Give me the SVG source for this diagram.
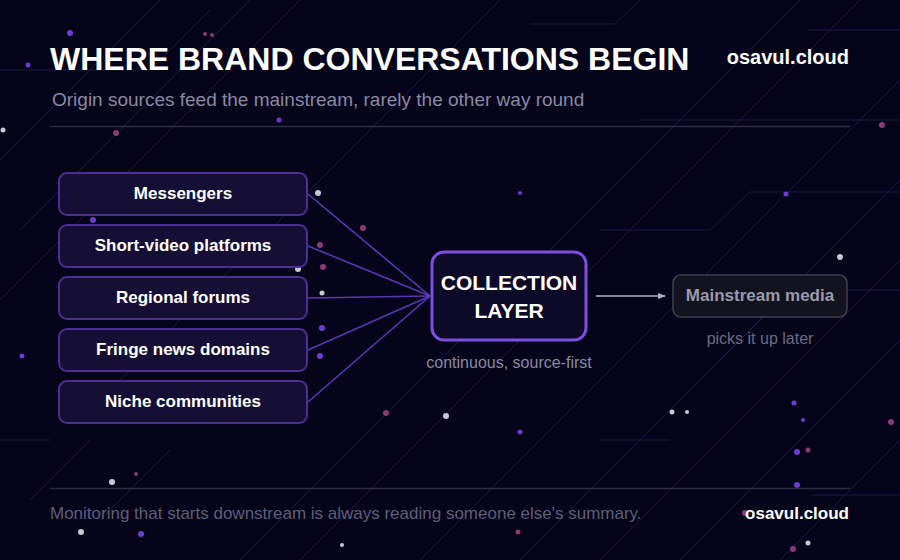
<svg xmlns="http://www.w3.org/2000/svg" width="900" height="560" viewBox="0 0 900 560">
  <defs>
    <style>
      .bg { fill: #05041a; }
      .deco { fill: none; stroke: #3a2f7a; stroke-width: 1; opacity: 0.45; }
      .deco2 { fill: none; stroke: #5a2a66; stroke-width: 1; opacity: 0.4; }
      .rule { stroke: #2c2a44; stroke-width: 1.5; }
      .title { font-family: "Liberation Sans", Arial, sans-serif; font-weight: bold; fill: #ffffff; }
      .sub { font-family: "Liberation Sans", Arial, sans-serif; fill: #8a89a3; }
      .src rect { fill: #150f36; stroke: #4b2f92; stroke-width: 2; }
      .src text { font-family: "Liberation Sans", Arial, sans-serif; font-weight: bold; font-size: 17px; fill: #ffffff; text-anchor: middle; }
      .feed { stroke: #6a3fd0; stroke-width: 1.6; opacity: 0.85; fill: none; }
      .dot-w { fill: #c8c8d4; }
      .dot-p { fill: #6a3fd0; }
      .dot-m { fill: #8a3a78; }
    </style>
    <marker id="arr" viewBox="0 0 10 10" refX="9" refY="5" markerWidth="8" markerHeight="8" markerUnits="userSpaceOnUse" orient="auto">
      <path d="M0,1 L10,5 L0,9 z" fill="#b3b1c8"/>
    </marker>
  </defs>

  <rect class="bg" x="0" y="0" width="900" height="560"/>

  <g id="background">
    <path class="deco" d="M0,160 L160,0"/>
    <path class="deco" d="M20,230 L250,0"/>
    <path class="deco2" d="M0,300 L300,0"/>
    <path class="deco" d="M80,420 L500,0"/>
    <path class="deco" d="M240,560 L800,0"/>
    <path class="deco2" d="M300,560 L860,0"/>
    <path class="deco" d="M420,560 L900,80"/>
    <path class="deco" d="M520,560 L900,180"/>
    <path class="deco2" d="M600,560 L900,260"/>
    <path class="deco" d="M680,560 L900,340"/>
    <path class="deco" d="M780,560 L900,440"/>
    <path class="deco" d="M0,70 L150,70 L210,10"/>
    <path class="deco" d="M530,24 L615,24 L640,0"/>
    <path class="deco" d="M600,230 L710,230 L750,192 L900,192"/>
    <path class="deco" d="M720,360 L790,290 L900,290"/>
    <path class="deco" d="M640,120 L900,120"/>
    <path class="deco" d="M0,440 L50,440"/>
    <path class="deco" d="M600,440 L670,440"/>
    <path class="deco" d="M808,30 L900,30"/>
    <path class="deco" d="M812,495 L900,495"/>
    <path class="deco" d="M100,520 L170,450"/>
    <path class="deco2" d="M30,500 L90,440"/>
    <circle class="dot-p" cx="70" cy="33" r="3"/>
    <circle class="dot-p" cx="28" cy="65" r="2.5"/>
    <circle class="dot-m" cx="205" cy="34" r="2"/>
    <circle class="dot-m" cx="212" cy="35" r="2"/>
    <circle class="dot-w" cx="3" cy="130" r="2.5"/>
    <circle class="dot-m" cx="116" cy="133" r="3"/>
    <circle class="dot-p" cx="279" cy="120" r="2.5"/>
    <circle class="dot-m" cx="882" cy="125" r="3"/>
    <circle class="dot-w" cx="318" cy="193" r="3"/>
    <circle class="dot-m" cx="363" cy="228" r="3"/>
    <circle class="dot-m" cx="320" cy="245" r="3"/>
    <circle class="dot-w" cx="298" cy="269" r="3"/>
    <circle class="dot-m" cx="323" cy="267" r="3"/>
    <circle class="dot-w" cx="322" cy="293" r="2.5"/>
    <circle class="dot-p" cx="322" cy="328" r="3"/>
    <circle class="dot-p" cx="320" cy="356" r="3"/>
    <circle class="dot-p" cx="93" cy="220" r="3"/>
    <circle class="dot-p" cx="22" cy="356" r="2.5"/>
    <circle class="dot-p" cx="520" cy="193" r="2"/>
    <circle class="dot-w" cx="840" cy="257" r="3"/>
    <circle class="dot-p" cx="786" cy="194" r="2.5"/>
    <circle class="dot-w" cx="446" cy="416" r="3"/>
    <circle class="dot-m" cx="386" cy="413" r="3"/>
    <circle class="dot-p" cx="520" cy="432" r="2.5"/>
    <circle class="dot-w" cx="672" cy="412" r="2.5"/>
    <circle class="dot-w" cx="687" cy="412" r="2"/>
    <circle class="dot-p" cx="794" cy="403" r="2.5"/>
    <circle class="dot-p" cx="803" cy="420" r="2"/>
    <circle class="dot-p" cx="797" cy="452" r="3"/>
    <circle class="dot-m" cx="808" cy="450" r="2.5"/>
    <circle class="dot-m" cx="891" cy="422" r="3"/>
    <circle class="dot-w" cx="112" cy="482" r="3"/>
    <circle class="dot-w" cx="81" cy="532" r="3"/>
    <circle class="dot-p" cx="141" cy="534" r="3"/>
    <circle class="dot-m" cx="136" cy="474" r="2"/>
    <circle class="dot-w" cx="342" cy="545" r="2"/>
    <circle class="dot-m" cx="518" cy="532" r="2.5"/>
    <circle class="dot-p" cx="797" cy="485" r="3"/>
    <circle class="dot-m" cx="745" cy="513" r="3"/>
    <circle class="dot-w" cx="808" cy="543" r="2.5"/>
    <circle class="dot-m" cx="793" cy="549" r="3"/>
  </g>

  <g id="header">
    <text class="title" x="50" y="70" font-size="32">WHERE BRAND CONVERSATIONS BEGIN</text>
    <text class="title" x="849" y="64" font-size="20" text-anchor="end">osavul.cloud</text>
    <text class="sub" x="52" y="106" font-size="19">Origin sources feed the mainstream, rarely the other way round</text>
    <line class="rule" x1="50" y1="126.5" x2="850" y2="126.5"/>
  </g>

  <g id="connectors">
    <line class="feed" x1="308" y1="194" x2="430" y2="296"/>
    <line class="feed" x1="308" y1="246" x2="430" y2="296"/>
    <line class="feed" x1="308" y1="298" x2="430" y2="296"/>
    <line class="feed" x1="308" y1="350" x2="430" y2="296"/>
    <line class="feed" x1="308" y1="402" x2="430" y2="296"/>
    <line x1="596" y1="296" x2="665" y2="296" stroke="#b3b1c8" stroke-width="1.6" marker-end="url(#arr)"/>
  </g>

  <g id="src-messengers" class="src">
    <rect x="59" y="173" width="248" height="42" rx="8"/>
    <text x="183" y="199">Messengers</text>
  </g>
  <g id="src-shortvideo" class="src">
    <rect x="59" y="225" width="248" height="42" rx="8"/>
    <text x="183" y="251">Short-video platforms</text>
  </g>
  <g id="src-forums" class="src">
    <rect x="59" y="277" width="248" height="42" rx="8"/>
    <text x="183" y="303">Regional forums</text>
  </g>
  <g id="src-fringe" class="src">
    <rect x="59" y="329" width="248" height="42" rx="8"/>
    <text x="183" y="355">Fringe news domains</text>
  </g>
  <g id="src-niche" class="src">
    <rect x="59" y="381" width="248" height="42" rx="8"/>
    <text x="183" y="407">Niche communities</text>
  </g>

  <g id="collection-layer">
    <rect x="432" y="252" width="154" height="88" rx="12" fill="#0d0a28" stroke="#7c4fe0" stroke-width="3"/>
    <text class="title" x="509" y="290" font-size="21" text-anchor="middle">COLLECTION</text>
    <text class="title" x="509" y="318" font-size="21" text-anchor="middle">LAYER</text>
    <text class="sub" x="509" y="368" font-size="16" text-anchor="middle">continuous, source-first</text>
  </g>

  <g id="mainstream-media">
    <rect x="673" y="275" width="174" height="42" rx="8" fill="#131320" stroke="#3d3d4e" stroke-width="1.6"/>
    <text x="760" y="301" font-family="Liberation Sans, Arial, sans-serif" font-weight="bold" font-size="17" fill="#9b9aaa" text-anchor="middle">Mainstream media</text>
    <text x="760" y="344" font-family="Liberation Sans, Arial, sans-serif" font-size="16" fill="#6c6b82" text-anchor="middle">picks it up later</text>
  </g>

  <g id="footer">
    <line class="rule" x1="50" y1="488.5" x2="850" y2="488.5"/>
    <text x="50" y="519" font-family="Liberation Sans, Arial, sans-serif" font-size="17" fill="#5f5e79">Monitoring that starts downstream is always reading someone else's summary.</text>
    <text class="title" x="849" y="519" font-size="17" text-anchor="end">osavul.cloud</text>
  </g>
</svg>
